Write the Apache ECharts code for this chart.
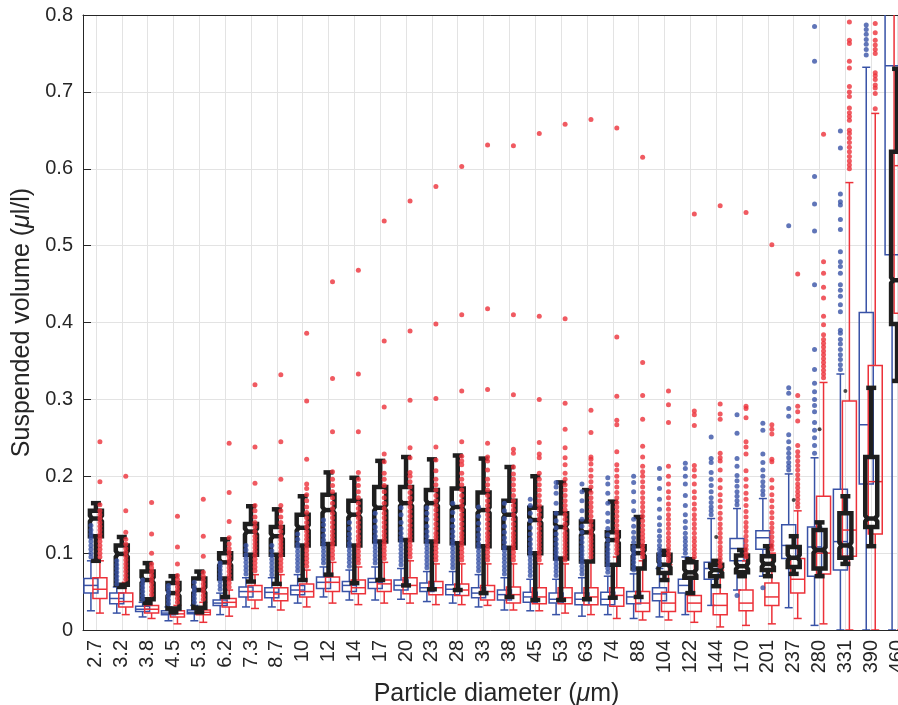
<!DOCTYPE html>
<html>
<head>
<meta charset="utf-8">
<script src="https://cdn.jsdelivr.net/npm/echarts@6/dist/echarts.min.js"></script>
<style>
  html, body { margin: 0; padding: 0; background: #fff; }
  #chart { width: 898px; height: 705px; }
</style>
</head>
<body>
<div id="chart"></div>
<script>
// particle size classes (um)
const categories = ['2.7', '3.2', '3.8', '4.5', '5.3', '6.2', '7.3', '8.7', '10', '12', '14', '17', '20', '23', '28', '33',
  '38', '45', '53', '63', '74', '88', '104', '122', '144', '170', '201', '237', '280', '331', '390', '460']

// [lower whisker, q1, median, q3, upper whisker]
const blackBox = [
  [0.090, 0.122, 0.145, 0.155, 0.165], [0.056, 0.059, 0.099, 0.110, 0.121], [0.035, 0.040, 0.065, 0.076, 0.087],
  [0.023, 0.028, 0.048, 0.061, 0.070], [0.023, 0.029, 0.052, 0.067, 0.076], [0.043, 0.067, 0.088, 0.100, 0.118],
  [0.063, 0.098, 0.128, 0.138, 0.161], [0.060, 0.098, 0.122, 0.134, 0.157], [0.065, 0.110, 0.133, 0.150, 0.174],
  [0.072, 0.112, 0.156, 0.176, 0.205], [0.061, 0.110, 0.150, 0.168, 0.198], [0.065, 0.115, 0.159, 0.186, 0.220],
  [0.058, 0.117, 0.165, 0.186, 0.225], [0.053, 0.115, 0.165, 0.182, 0.222], [0.052, 0.113, 0.160, 0.184, 0.227],
  [0.048, 0.109, 0.156, 0.179, 0.223], [0.043, 0.107, 0.150, 0.168, 0.212], [0.039, 0.100, 0.143, 0.159, 0.200],
  [0.039, 0.093, 0.134, 0.152, 0.192], [0.040, 0.089, 0.127, 0.141, 0.182], [0.042, 0.085, 0.117, 0.127, 0.167],
  [0.043, 0.080, 0.100, 0.109, 0.147], [0.065, 0.074, 0.085, 0.098, 0.103], [0.048, 0.068, 0.075, 0.088, 0.092],
  [0.057, 0.070, 0.078, 0.085, 0.090], [0.070, 0.075, 0.083, 0.097, 0.104], [0.070, 0.078, 0.086, 0.096, 0.109],
  [0.073, 0.082, 0.094, 0.108, 0.122], [0.070, 0.080, 0.104, 0.130, 0.140], [0.086, 0.094, 0.110, 0.152, 0.174],
  [0.109, 0.134, 0.145, 0.225, 0.315], [0.324, 0.398, 0.455, 0.622, 0.730]
]
const blueBox = [
  [0.025, 0.048, 0.058, 0.067, 0.090], [0.022, 0.034, 0.041, 0.048, 0.056], [0.017, 0.024, 0.027, 0.031, 0.036],
  [0.012, 0.020, 0.022, 0.025, 0.030], [0.012, 0.021, 0.023, 0.026, 0.032], [0.020, 0.032, 0.035, 0.039, 0.048],
  [0.030, 0.043, 0.050, 0.056, 0.068], [0.030, 0.042, 0.049, 0.055, 0.068], [0.035, 0.046, 0.052, 0.058, 0.072],
  [0.043, 0.054, 0.062, 0.069, 0.082], [0.039, 0.050, 0.058, 0.063, 0.078], [0.039, 0.054, 0.062, 0.067, 0.082],
  [0.040, 0.052, 0.058, 0.065, 0.080], [0.037, 0.050, 0.055, 0.061, 0.076], [0.035, 0.046, 0.053, 0.059, 0.076],
  [0.030, 0.042, 0.048, 0.055, 0.072], [0.026, 0.039, 0.046, 0.052, 0.068], [0.025, 0.036, 0.043, 0.049, 0.066],
  [0.020, 0.035, 0.040, 0.048, 0.066], [0.018, 0.033, 0.040, 0.048, 0.068], [0.020, 0.033, 0.040, 0.049, 0.070],
  [0.015, 0.034, 0.043, 0.050, 0.073], [0.017, 0.038, 0.047, 0.055, 0.080], [0.020, 0.048, 0.058, 0.066, 0.095],
  [0.032, 0.066, 0.080, 0.088, 0.145], [0.052, 0.090, 0.106, 0.119, 0.158], [0.070, 0.105, 0.120, 0.129, 0.171],
  [0.029, 0.093, 0.110, 0.137, 0.203], [0.006, 0.070, 0.108, 0.134, 0.224], [0.000, 0.078, 0.115, 0.183, 0.333],
  [0.000, 0.190, 0.267, 0.413, 0.732], [0.000, 0.488, 0.734, 0.950, 1.200]
]
const redBox = [
  [0.022, 0.041, 0.053, 0.068, 0.090], [0.020, 0.030, 0.037, 0.048, 0.062], [0.015, 0.022, 0.027, 0.032, 0.042],
  [0.008, 0.017, 0.021, 0.025, 0.032], [0.010, 0.020, 0.023, 0.026, 0.036], [0.018, 0.030, 0.036, 0.041, 0.052],
  [0.028, 0.039, 0.050, 0.058, 0.072], [0.026, 0.038, 0.047, 0.055, 0.072], [0.030, 0.043, 0.050, 0.060, 0.078],
  [0.035, 0.050, 0.062, 0.069, 0.088], [0.033, 0.047, 0.055, 0.065, 0.082], [0.035, 0.050, 0.060, 0.065, 0.088],
  [0.035, 0.047, 0.058, 0.068, 0.090], [0.033, 0.046, 0.055, 0.063, 0.086], [0.033, 0.045, 0.052, 0.060, 0.086],
  [0.032, 0.039, 0.050, 0.058, 0.086], [0.026, 0.035, 0.046, 0.056, 0.086], [0.025, 0.034, 0.043, 0.055, 0.086],
  [0.022, 0.034, 0.042, 0.055, 0.086], [0.020, 0.033, 0.043, 0.055, 0.090], [0.015, 0.031, 0.045, 0.055, 0.095],
  [0.013, 0.024, 0.035, 0.050, 0.090], [0.013, 0.024, 0.035, 0.049, 0.085], [0.010, 0.024, 0.035, 0.045, 0.090],
  [0.004, 0.020, 0.032, 0.047, 0.078], [0.006, 0.025, 0.035, 0.052, 0.090], [0.008, 0.032, 0.043, 0.061, 0.100],
  [0.015, 0.048, 0.066, 0.093, 0.155], [0.008, 0.073, 0.100, 0.174, 0.322], [0.000, 0.096, 0.130, 0.298, 0.582],
  [0.000, 0.125, 0.193, 0.344, 0.672], [0.000, 0.412, 0.604, 0.950, 1.300]
]

// outliers, one list per size class
const blackOut = [[], [], [], [], [], [], [], [], [], [], [], [], [], [], [], [], [], [], [], [], [], [], [], [],
  [0.121], [], [], [0.169], [0.261], [0.311], [], []]
const blueOut = [
  [0.095, 0.1, 0.105, 0.11, 0.115, 0.12, 0.125, 0.13, 0.136],
  [0.06, 0.065, 0.07, 0.075, 0.08, 0.085, 0.09],
  [0.04, 0.045, 0.05, 0.055, 0.06, 0.065],
  [0.034, 0.039, 0.044, 0.049, 0.054, 0.058],
  [0.036, 0.041, 0.046, 0.051, 0.056, 0.062],
  [0.053, 0.058, 0.063, 0.068, 0.073, 0.078, 0.083, 0.087],
  [0.073, 0.078, 0.083, 0.088, 0.093, 0.098, 0.104, 0.11],
  [0.072, 0.077, 0.082, 0.087, 0.092, 0.097, 0.103, 0.11],
  [0.077, 0.082, 0.087, 0.092, 0.097, 0.102, 0.107, 0.112, 0.118, 0.125],
  [0.087, 0.092, 0.097, 0.102, 0.107, 0.112, 0.117, 0.123, 0.13, 0.137, 0.143],
  [0.083, 0.088, 0.093, 0.098, 0.103, 0.108, 0.113, 0.119, 0.125, 0.132, 0.14],
  [0.087, 0.092, 0.097, 0.102, 0.107, 0.112, 0.117, 0.122, 0.128, 0.134, 0.142, 0.152],
  [0.085, 0.09, 0.095, 0.1, 0.105, 0.11, 0.115, 0.12, 0.126, 0.132, 0.14, 0.15, 0.159],
  [0.081, 0.086, 0.091, 0.096, 0.101, 0.106, 0.111, 0.116, 0.122, 0.128, 0.135, 0.144, 0.152, 0.159],
  [0.081, 0.086, 0.091, 0.096, 0.101, 0.106, 0.111, 0.116, 0.122, 0.128, 0.135, 0.143, 0.153, 0.165],
  [0.077, 0.082, 0.087, 0.092, 0.097, 0.102, 0.107, 0.112, 0.118, 0.124, 0.131, 0.139, 0.148, 0.16],
  [0.073, 0.078, 0.083, 0.088, 0.093, 0.098, 0.103, 0.108, 0.114, 0.12, 0.127, 0.135, 0.145, 0.155, 0.165],
  [0.071, 0.076, 0.081, 0.086, 0.091, 0.096, 0.101, 0.106, 0.112, 0.118, 0.125, 0.133, 0.142, 0.152, 0.162, 0.17],
  [0.071, 0.076, 0.081, 0.086, 0.091, 0.096, 0.101, 0.106, 0.112, 0.118, 0.125, 0.133, 0.142, 0.152, 0.165, 0.178, 0.186, 0.192],
  [0.073, 0.078, 0.083, 0.088, 0.093, 0.098, 0.103, 0.108, 0.114, 0.12, 0.127, 0.135, 0.144, 0.155, 0.168, 0.18, 0.19],
  [0.075, 0.08, 0.085, 0.09, 0.095, 0.1, 0.105, 0.111, 0.117, 0.124, 0.132, 0.141, 0.152, 0.165, 0.178, 0.19, 0.198],
  [0.078, 0.083, 0.088, 0.093, 0.098, 0.103, 0.108, 0.114, 0.12, 0.127, 0.135, 0.144, 0.155, 0.167, 0.18, 0.192, 0.2],
  [0.085, 0.09, 0.095, 0.1, 0.105, 0.11, 0.116, 0.122, 0.129, 0.137, 0.146, 0.157, 0.17, 0.184, 0.197, 0.21],
  [0.1, 0.105, 0.11, 0.115, 0.12, 0.126, 0.133, 0.141, 0.15, 0.162, 0.175, 0.19, 0.2, 0.21, 0.217],
  [0.15, 0.155, 0.16, 0.166, 0.172, 0.18, 0.188, 0.196, 0.205, 0.218, 0.223, 0.251],
  [0.045, 0.163, 0.168, 0.174, 0.18, 0.187, 0.194, 0.201, 0.213, 0.223, 0.256, 0.28],
  [0.055, 0.176, 0.181, 0.187, 0.193, 0.2, 0.208, 0.218, 0.229, 0.26, 0.269],
  [0.208, 0.213, 0.218, 0.224, 0.23, 0.236, 0.245, 0.254, 0.278, 0.288, 0.308, 0.315, 0.526],
  [0.23, 0.24, 0.25, 0.26, 0.27, 0.284, 0.292, 0.3, 0.31, 0.321, 0.339, 0.365, 0.449, 0.519, 0.554, 0.59, 0.74, 0.785],
  [0.339, 0.345, 0.352, 0.358, 0.365, 0.372, 0.378, 0.386, 0.39, 0.414, 0.423, 0.434, 0.442, 0.449, 0.464, 0.473, 0.479,
    0.492, 0.521, 0.534, 0.553, 0.557, 0.567, 0.627, 0.649],
  [0.748, 0.755, 0.762, 0.768, 0.775, 0.781, 0.787],
  []
]
const redOut = [
  [0.095, 0.1, 0.105, 0.11, 0.115, 0.12, 0.125, 0.13, 0.135, 0.14, 0.145, 0.15, 0.155, 0.163, 0.193, 0.245],
  [0.066, 0.071, 0.076, 0.081, 0.086, 0.091, 0.096, 0.101, 0.106, 0.112, 0.118, 0.127, 0.155, 0.2],
  [0.046, 0.051, 0.056, 0.061, 0.066, 0.071, 0.076, 0.081, 0.086, 0.1, 0.125, 0.166],
  [0.036, 0.041, 0.046, 0.051, 0.056, 0.061, 0.066, 0.071, 0.086, 0.108, 0.148],
  [0.04, 0.045, 0.05, 0.055, 0.06, 0.065, 0.07, 0.075, 0.096, 0.122, 0.17],
  [0.056, 0.061, 0.066, 0.071, 0.076, 0.081, 0.086, 0.091, 0.096, 0.101, 0.106, 0.112, 0.12, 0.141, 0.179, 0.243],
  [0.077, 0.082, 0.087, 0.092, 0.097, 0.102, 0.107, 0.112, 0.117, 0.122, 0.128, 0.134, 0.14, 0.147, 0.155, 0.162, 0.191, 0.238, 0.319],
  [0.077, 0.082, 0.087, 0.092, 0.097, 0.102, 0.107, 0.112, 0.117, 0.122, 0.128, 0.134, 0.14, 0.147, 0.155, 0.162, 0.196, 0.245, 0.332],
  [0.083, 0.088, 0.093, 0.098, 0.103, 0.108, 0.113, 0.118, 0.123, 0.128, 0.134, 0.14, 0.146, 0.153, 0.16, 0.168, 0.176, 0.184,
    0.19, 0.222, 0.298, 0.386],
  [0.093, 0.098, 0.103, 0.108, 0.113, 0.118, 0.123, 0.128, 0.134, 0.14, 0.146, 0.152, 0.158, 0.165, 0.172, 0.18, 0.188, 0.196,
    0.206, 0.258, 0.327, 0.453],
  [0.087, 0.092, 0.097, 0.102, 0.107, 0.112, 0.117, 0.122, 0.128, 0.134, 0.14, 0.146, 0.152, 0.158, 0.165, 0.172, 0.18, 0.188,
    0.196, 0.205, 0.258, 0.333, 0.468],
  [0.093, 0.098, 0.103, 0.108, 0.113, 0.118, 0.123, 0.128, 0.134, 0.14, 0.146, 0.152, 0.158, 0.165, 0.172, 0.18, 0.188, 0.196,
    0.204, 0.219, 0.229, 0.29, 0.376, 0.532],
  [0.095, 0.1, 0.105, 0.11, 0.115, 0.12, 0.125, 0.13, 0.136, 0.142, 0.148, 0.154, 0.16, 0.166, 0.172, 0.179, 0.186, 0.193,
    0.2, 0.205, 0.224, 0.237, 0.299, 0.389, 0.558],
  [0.091, 0.096, 0.101, 0.106, 0.111, 0.116, 0.121, 0.126, 0.132, 0.138, 0.144, 0.15, 0.156, 0.162, 0.168, 0.175, 0.182, 0.189,
    0.196, 0.207, 0.221, 0.238, 0.301, 0.398, 0.577],
  [0.091, 0.096, 0.101, 0.106, 0.111, 0.116, 0.121, 0.126, 0.132, 0.138, 0.144, 0.15, 0.156, 0.162, 0.168, 0.175, 0.182, 0.189,
    0.196, 0.204, 0.215, 0.22, 0.226, 0.245, 0.311, 0.41, 0.603],
  [0.091, 0.096, 0.101, 0.106, 0.111, 0.116, 0.121, 0.126, 0.132, 0.138, 0.144, 0.15, 0.156, 0.162, 0.168, 0.175, 0.182, 0.189,
    0.196, 0.208, 0.22, 0.225, 0.243, 0.313, 0.418, 0.631],
  [0.091, 0.096, 0.101, 0.106, 0.111, 0.116, 0.121, 0.126, 0.132, 0.138, 0.144, 0.15, 0.156, 0.162, 0.168, 0.175, 0.182, 0.189,
    0.196, 0.203, 0.212, 0.23, 0.235, 0.306, 0.41, 0.63],
  [0.091, 0.096, 0.101, 0.106, 0.111, 0.116, 0.121, 0.126, 0.132, 0.138, 0.144, 0.15, 0.156, 0.162, 0.168, 0.175, 0.182, 0.189,
    0.196, 0.204, 0.224, 0.229, 0.244, 0.3, 0.408, 0.646],
  [0.091, 0.096, 0.101, 0.106, 0.111, 0.116, 0.121, 0.126, 0.132, 0.138, 0.144, 0.15, 0.156, 0.162, 0.168, 0.175, 0.182, 0.189,
    0.196, 0.204, 0.215, 0.224, 0.237, 0.261, 0.295, 0.405, 0.658],
  [0.095, 0.1, 0.105, 0.11, 0.115, 0.12, 0.125, 0.13, 0.136, 0.142, 0.148, 0.154, 0.16, 0.166, 0.172, 0.179, 0.186, 0.193,
    0.2, 0.208, 0.216, 0.222, 0.225, 0.257, 0.286, 0.664],
  [0.1, 0.105, 0.11, 0.115, 0.12, 0.125, 0.13, 0.136, 0.142, 0.148, 0.154, 0.16, 0.166, 0.172, 0.179, 0.186, 0.193, 0.2,
    0.208, 0.215, 0.232, 0.267, 0.273, 0.304, 0.381, 0.653],
  [0.095, 0.1, 0.105, 0.11, 0.115, 0.12, 0.125, 0.13, 0.136, 0.142, 0.148, 0.154, 0.16, 0.166, 0.172, 0.179, 0.186, 0.193,
    0.2, 0.206, 0.213, 0.225, 0.239, 0.274, 0.305, 0.348, 0.615],
  [0.09, 0.095, 0.1, 0.105, 0.11, 0.115, 0.12, 0.126, 0.132, 0.138, 0.144, 0.15, 0.157, 0.164, 0.172, 0.18, 0.19, 0.2,
    0.213, 0.27, 0.293, 0.311],
  [0.095, 0.1, 0.105, 0.11, 0.115, 0.12, 0.126, 0.132, 0.138, 0.144, 0.15, 0.157, 0.164, 0.172, 0.18, 0.19, 0.2, 0.208,
    0.214, 0.266, 0.28, 0.285, 0.541],
  [0.083, 0.088, 0.093, 0.098, 0.103, 0.108, 0.114, 0.12, 0.126, 0.132, 0.138, 0.145, 0.152, 0.16, 0.168, 0.176, 0.185, 0.195,
    0.208, 0.22, 0.224, 0.23, 0.274, 0.281, 0.294, 0.552],
  [0.095, 0.1, 0.105, 0.11, 0.116, 0.122, 0.128, 0.134, 0.14, 0.147, 0.154, 0.162, 0.17, 0.178, 0.187, 0.196, 0.207, 0.229,
    0.238, 0.245, 0.276, 0.288, 0.291, 0.543],
  [0.105, 0.11, 0.115, 0.121, 0.127, 0.133, 0.139, 0.146, 0.153, 0.16, 0.168, 0.176, 0.185, 0.195, 0.219, 0.222, 0.255, 0.261,
    0.267, 0.501],
  [0.16, 0.165, 0.17, 0.175, 0.18, 0.185, 0.19, 0.196, 0.202, 0.208, 0.214, 0.22, 0.226, 0.232, 0.24, 0.272, 0.284, 0.291,
    0.305, 0.463],
  [0.328, 0.333, 0.338, 0.343, 0.348, 0.353, 0.358, 0.363, 0.368, 0.373, 0.378, 0.384, 0.397, 0.408, 0.432, 0.446, 0.464,
    0.479, 0.645],
  [0.6, 0.605, 0.61, 0.616, 0.622, 0.628, 0.634, 0.64, 0.646, 0.65, 0.663, 0.668, 0.673, 0.679, 0.694, 0.7, 0.707, 0.731,
    0.74, 0.763, 0.767, 0.791],
  [0.678, 0.698, 0.705, 0.709, 0.716, 0.721, 0.725, 0.75, 0.755, 0.761, 0.767, 0.777, 0.789],
  []
]

const yTicks = [0, 0.1, 0.2, 0.3, 0.4, 0.5, 0.6, 0.7, 0.8]

const FONT = '"Liberation Sans", Arial, Helvetica, sans-serif'
const AXIS_COLOR = '#262626'
const BLACK = '#1e1e1e'
const BLUE = '#3852a6'
const RED = '#ec3139'

const chart = echarts.init(document.getElementById('chart'), null, { renderer: 'canvas' })

// box with whiskers, drawn through the axis scales
function boxRenderer (offset, halfW, lw, color, capHalf, notch) {
  return function (params, api) {
    const i = api.value(0)
    const cx = api.coord([i, 0])[0] + offset
    const py = k => api.coord([i, api.value(k)])[1]
    const yLo = py(1)
    const yQ1 = py(2)
    const yMed = py(3)
    const yQ3 = py(4)
    const yHi = py(5)
    const style = { stroke: color, lineWidth: lw, fill: 'none' }
    const line = (x1, y1, x2, y2) => ({ type: 'line', shape: { x1, y1, x2, y2 }, style })
    const kids = [
      line(cx, yQ1, cx, yLo),
      line(cx, yQ3, cx, yHi),
      line(cx - capHalf, yLo, cx + capHalf, yLo),
      line(cx - capHalf, yHi, cx + capHalf, yHi)
    ]
    if (notch) {
      // small notch around the median
      const n = Math.max(0, Math.min(3, yQ1 - yMed, yMed - yQ3))
      const nw = halfW - 2
      kids.push({
        type: 'polygon',
        shape: {
          points: [
            [cx - halfW, yQ3], [cx + halfW, yQ3], [cx + halfW, yMed - n], [cx + nw, yMed], [cx + halfW, yMed + n],
            [cx + halfW, yQ1], [cx - halfW, yQ1], [cx - halfW, yMed + n], [cx - nw, yMed], [cx - halfW, yMed - n]
          ]
        },
        style
      })
      kids.push(line(cx - nw, yMed, cx + nw, yMed))
    } else {
      kids.push({ type: 'rect', shape: { x: cx - halfW, y: yQ3, width: halfW * 2, height: yQ1 - yQ3 }, style })
      kids.push(line(cx - halfW, yMed, cx + halfW, yMed))
    }
    return { type: 'group', children: kids }
  }
}

const toBoxData = arr => arr.map((b, i) => [i].concat(b))
const toPoints = arr => {
  const pts = []
  arr.forEach((vals, i) => vals.forEach(v => pts.push([i, v])))
  return pts
}

const titleRich = {
  n: { fontSize: 25, fontFamily: FONT, color: AXIS_COLOR },
  i: { fontSize: 25, fontFamily: FONT, fontStyle: 'italic', color: AXIS_COLOR }
}

chart.setOption({
  animation: false,
  backgroundColor: '#fff',
  // plot runs past the right edge of the picture
  grid: { left: 83, top: 15, width: 827, height: 615, containLabel: false, outerBoundsMode: 'none' },
  xAxis: [
    {
      type: 'category',
      data: categories,
      position: 'bottom',
      boundaryGap: true,
      axisLine: { lineStyle: { color: AXIS_COLOR, width: 1 } },
      axisTick: { inside: true, alignWithLabel: true, length: 8, lineStyle: { color: AXIS_COLOR } },
      axisLabel: { rotate: 90, interval: 0, fontSize: 20, margin: 10, color: AXIS_COLOR, fontFamily: FONT },
      splitLine: { show: true, alignWithLabel: true, interval: 0, lineStyle: { color: '#e3e3e3', width: 1 } },
      name: '{n|Particle diameter (}{i|μ}{n|m)}',
      nameLocation: 'middle',
      nameGap: 50,
      nameTextStyle: { rich: titleRich }
    },
    {
      type: 'category',
      data: categories,
      position: 'top',
      boundaryGap: true,
      axisLine: { lineStyle: { color: AXIS_COLOR, width: 1 } },
      axisTick: { inside: true, alignWithLabel: true, length: 8, lineStyle: { color: AXIS_COLOR } },
      axisLabel: { show: false },
      splitLine: { show: false }
    }
  ],
  yAxis: {
    type: 'value',
    min: yTicks[0],
    max: yTicks[yTicks.length - 1],
    interval: 0.1,
    axisLine: { show: true, lineStyle: { color: AXIS_COLOR, width: 1 } },
    axisTick: { show: true, inside: true, length: 8, lineStyle: { color: AXIS_COLOR } },
    axisLabel: {
      fontSize: 20,
      margin: 10,
      color: AXIS_COLOR,
      fontFamily: FONT,
      formatter: v => String(+v.toFixed(1))
    },
    splitLine: { show: true, lineStyle: { color: '#e3e3e3', width: 1 } },
    name: '{n|Suspended volume (}{i|μ}{n|l/l)}',
    nameLocation: 'middle',
    nameGap: 48,
    nameTextStyle: { rich: titleRich }
  },
  series: [
    {
      type: 'custom',
      name: 'blue',
      clip: true,
      renderItem: boxRenderer(-5, 7, 1.5, BLUE, 4, false),
      encode: { x: 0, y: [1, 2, 3, 4, 5] },
      data: toBoxData(blueBox),
      z: 2
    },
    {
      type: 'custom',
      name: 'red',
      clip: true,
      renderItem: boxRenderer(4, 7, 1.5, RED, 4, false),
      encode: { x: 0, y: [1, 2, 3, 4, 5] },
      data: toBoxData(redBox),
      z: 3
    },
    {
      type: 'custom',
      name: 'black',
      clip: true,
      renderItem: boxRenderer(0, 6, 4.5, BLACK, 5, true),
      encode: { x: 0, y: [1, 2, 3, 4, 5] },
      data: toBoxData(blackBox),
      z: 4
    },
    {
      type: 'scatter',
      name: 'blue outliers',
      symbol: 'circle',
      symbolSize: 5,
      symbolOffset: [-5, 0],
      itemStyle: { color: BLUE },
      data: toPoints(blueOut),
      clip: true,
      z: 5
    },
    {
      type: 'scatter',
      name: 'red outliers',
      symbol: 'circle',
      symbolSize: 5,
      symbolOffset: [4, 0],
      itemStyle: { color: RED },
      data: toPoints(redOut),
      clip: true,
      z: 6
    },
    {
      type: 'scatter',
      name: 'black outliers',
      symbol: 'circle',
      symbolSize: 4,
      itemStyle: { color: BLACK },
      data: toPoints(blackOut),
      clip: true,
      z: 7
    }
  ]
})
</script>
</body>
</html>
